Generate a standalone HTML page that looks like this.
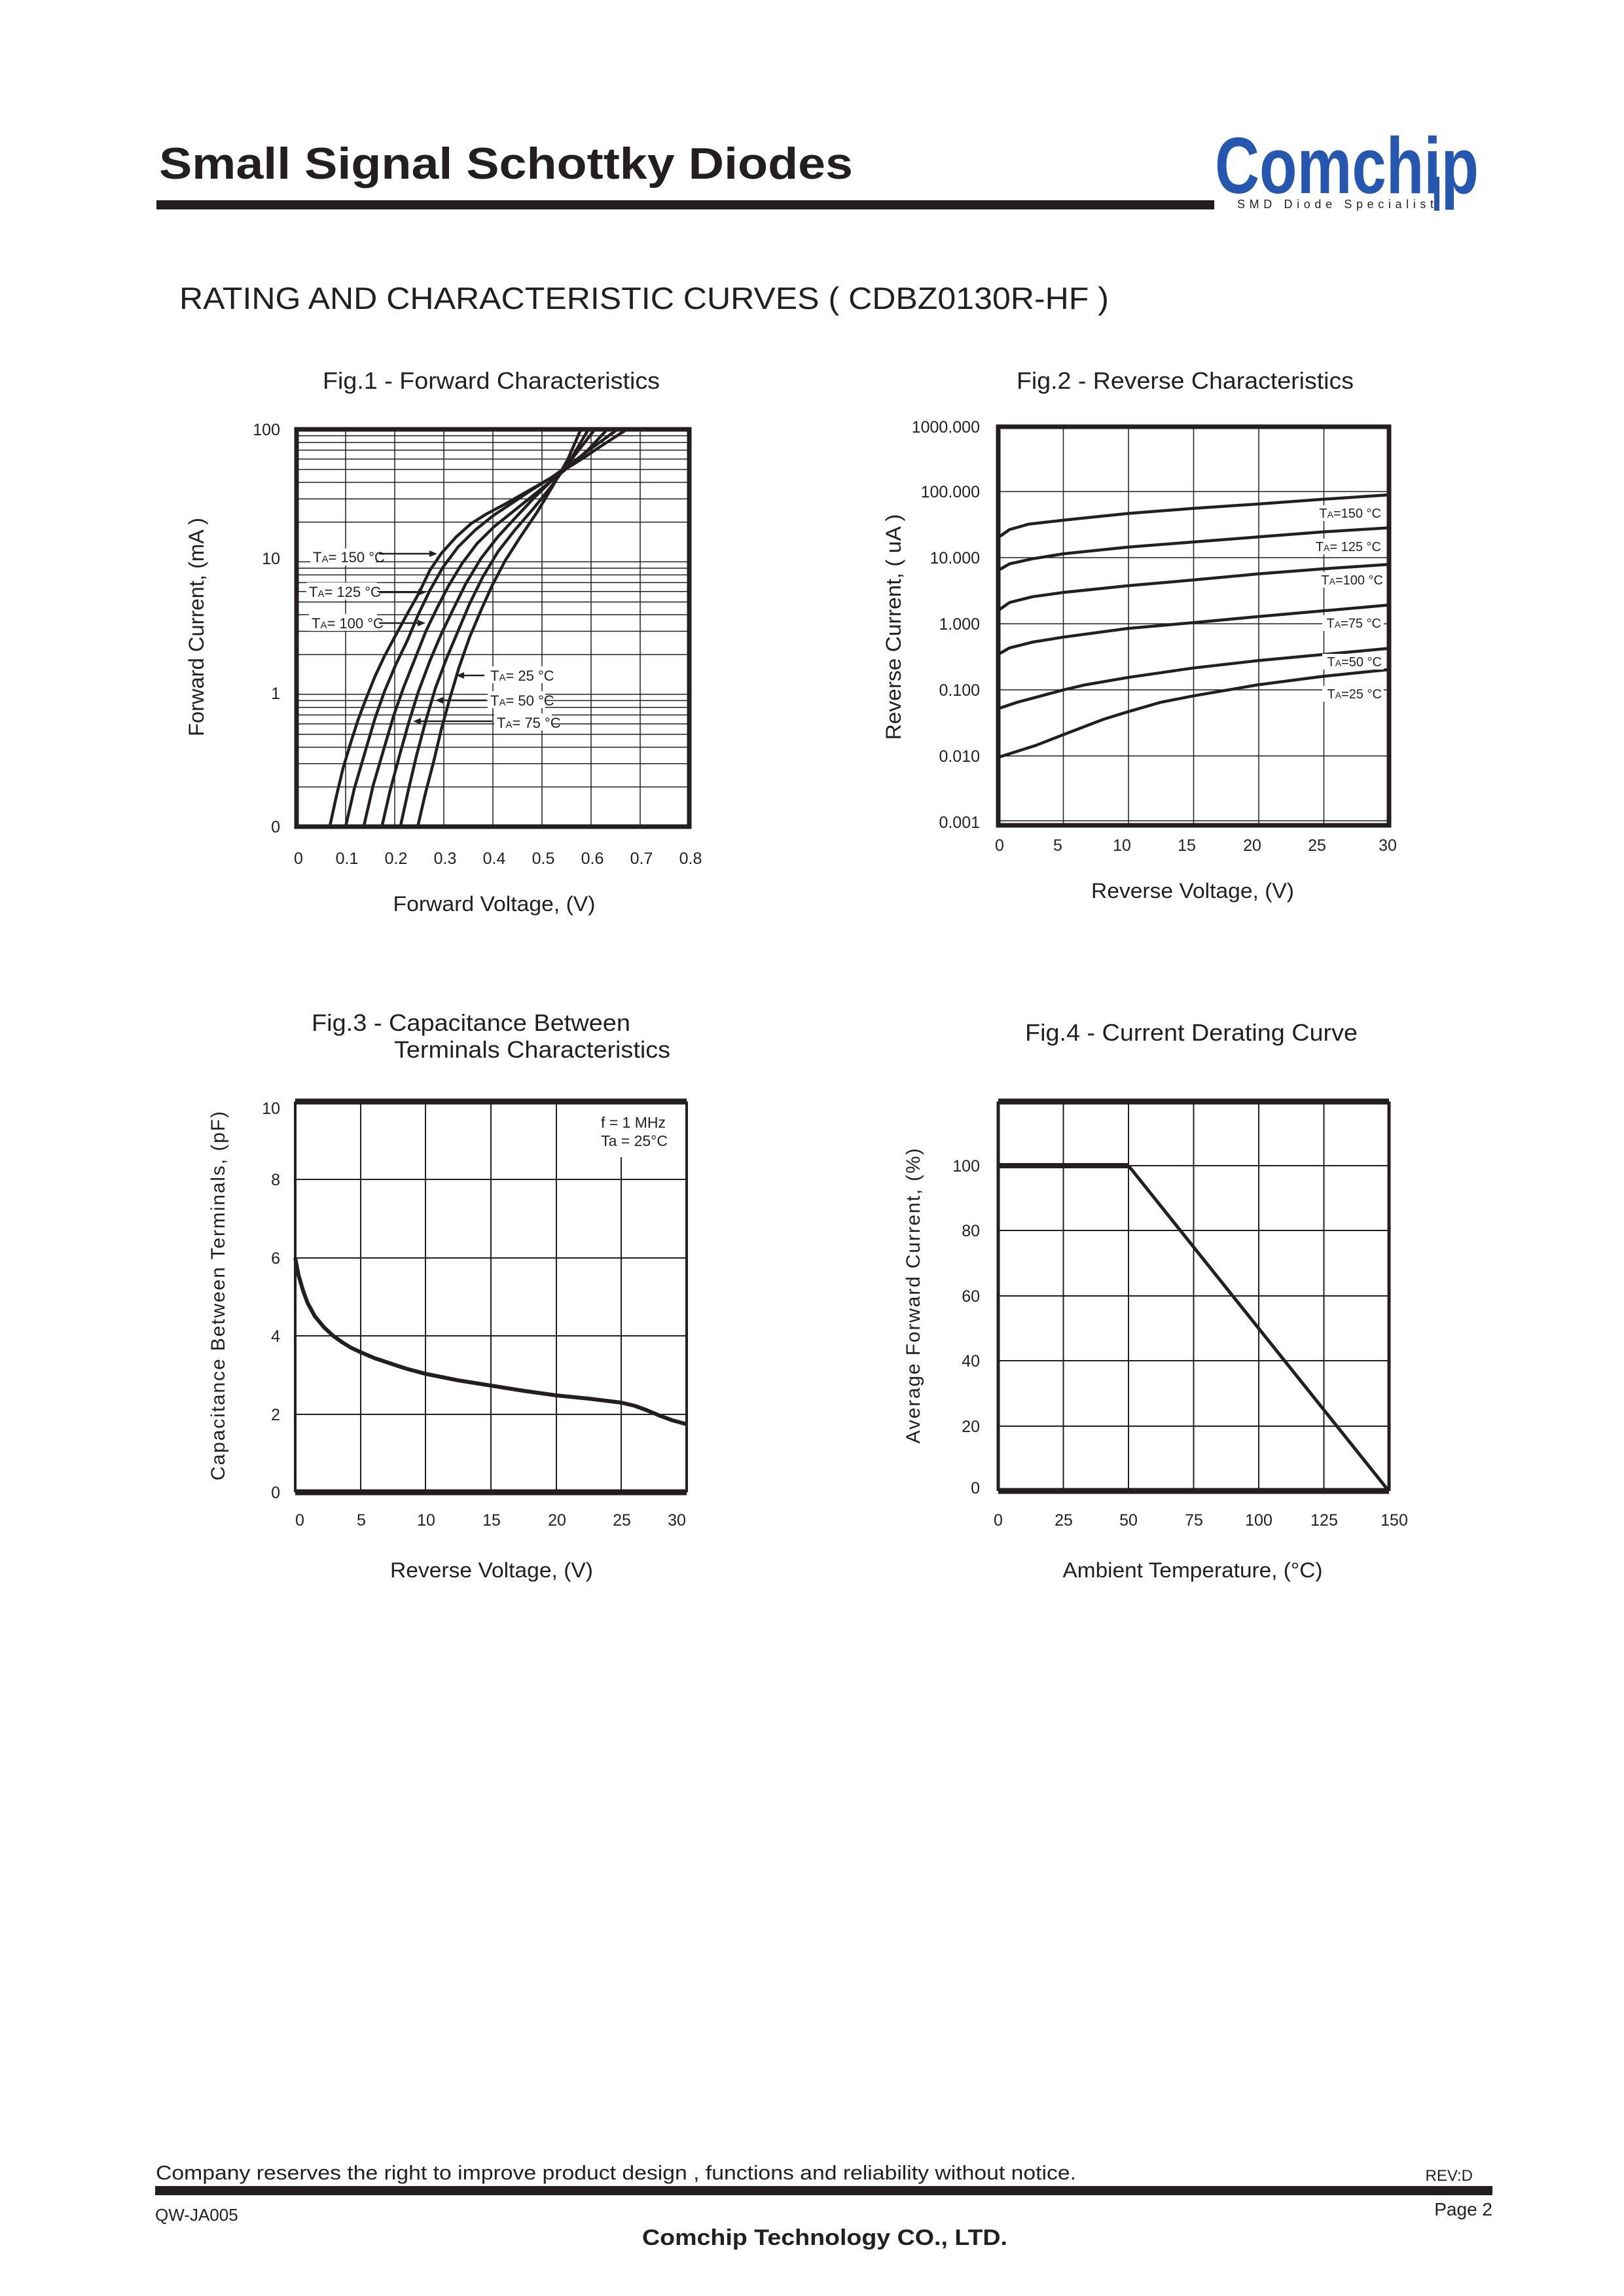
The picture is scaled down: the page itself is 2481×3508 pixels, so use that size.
<!DOCTYPE html>
<html><head><meta charset="utf-8"><style>
html,body{margin:0;padding:0;background:#fff}
svg{display:block}
text{font-family:"Liberation Sans",Arial,sans-serif;fill:#231f20}
</style></head><body>
<svg width="2481" height="3508" viewBox="0 0 2481 3508" xmlns="http://www.w3.org/2000/svg">
<rect width="2481" height="3508" fill="#fff"/>
<!-- Header -->
<text x="243" y="273" font-size="68" font-weight="bold" textLength="1060" lengthAdjust="spacingAndGlyphs">Small Signal Schottky Diodes</text>
<rect x="239" y="306" width="1616" height="14" fill="#231f20"/>
<text x="1856" y="295" font-size="122" font-weight="bold" style="fill:#2557b0" textLength="403" lengthAdjust="spacingAndGlyphs">Comchip</text>
<rect x="2191" y="270" width="8" height="52" fill="#2557b0"/>
<text x="1890" y="318" font-size="18" textLength="300" lengthAdjust="spacing">SMD Diode Specialist</text>
<text x="274" y="472" font-size="47" textLength="1420" lengthAdjust="spacingAndGlyphs">RATING AND CHARACTERISTIC CURVES ( CDBZ0130R-HF )</text>

<!-- Fig titles -->
<text x="493" y="594" font-size="36" textLength="515" lengthAdjust="spacingAndGlyphs">Fig.1 - Forward Characteristics</text>
<text x="1553" y="594" font-size="36" textLength="515" lengthAdjust="spacingAndGlyphs">Fig.2 - Reverse Characteristics</text>
<text x="476" y="1575" font-size="36" textLength="487" lengthAdjust="spacingAndGlyphs">Fig.3 - Capacitance Between</text>
<text x="602" y="1616" font-size="36" textLength="422" lengthAdjust="spacingAndGlyphs">Terminals Characteristics</text>
<text x="1566" y="1590" font-size="36" textLength="508" lengthAdjust="spacingAndGlyphs">Fig.4 - Current Derating Curve</text>

<!-- ===== FIG 1 ===== -->
<g stroke="#231f20" stroke-width="1.5">
<line x1="453" x2="1053" y1="1202.4" y2="1202.4"/><line x1="453" x2="1053" y1="1166.8" y2="1166.8"/>
<line x1="453" x2="1053" y1="1141.6" y2="1141.6"/><line x1="453" x2="1053" y1="1122.0" y2="1122.0"/>
<line x1="453" x2="1053" y1="1106.0" y2="1106.0"/><line x1="453" x2="1053" y1="1092.4" y2="1092.4"/>
<line x1="453" x2="1053" y1="1080.7" y2="1080.7"/><line x1="453" x2="1053" y1="1070.4" y2="1070.4"/>
<line x1="453" x2="1053" y1="1060.7" y2="1060.7"/>
<line x1="453" x2="1053" y1="1000.1" y2="1000.1"/><line x1="453" x2="1053" y1="964.5" y2="964.5"/>
<line x1="453" x2="1053" y1="939.3" y2="939.3"/><line x1="453" x2="1053" y1="919.7" y2="919.7"/>
<line x1="453" x2="1053" y1="903.7" y2="903.7"/><line x1="453" x2="1053" y1="890.1" y2="890.1"/>
<line x1="453" x2="1053" y1="878.4" y2="878.4"/><line x1="453" x2="1053" y1="868.1" y2="868.1"/>
<line x1="453" x2="1053" y1="858.4" y2="858.4"/>
<line x1="453" x2="1053" y1="797.8" y2="797.8"/><line x1="453" x2="1053" y1="762.2" y2="762.2"/>
<line x1="453" x2="1053" y1="737.0" y2="737.0"/><line x1="453" x2="1053" y1="717.4" y2="717.4"/>
<line x1="453" x2="1053" y1="701.4" y2="701.4"/><line x1="453" x2="1053" y1="687.8" y2="687.8"/>
<line x1="453" x2="1053" y1="676.1" y2="676.1"/><line x1="453" x2="1053" y1="665.8" y2="665.8"/>
<line x1="528" x2="528" y1="656" y2="1263"/><line x1="603" x2="603" y1="656" y2="1263"/>
<line x1="678" x2="678" y1="656" y2="1263"/><line x1="753" x2="753" y1="656" y2="1263"/>
<line x1="828" x2="828" y1="656" y2="1263"/><line x1="903" x2="903" y1="656" y2="1263"/>
<line x1="978" x2="978" y1="656" y2="1263"/>
</g>
<g transform="translate(453,656) scale(0.5769,0.5131) translate(-347,-100)" fill="none" stroke="#231f20" stroke-linejoin="round" stroke-linecap="round">
<polyline vector-effect="non-scaling-stroke" stroke-width="4.5" points="435,1283 452,1195 470,1110 490,1035 510,965 530,905 555,835 580,775 610,712 640,650 670,590 700,520 730,470 770,420 810,380 850,352 900,322 950,290 1000,258 1050,225 1100,190 1160,145 1222,100"/>
<polyline vector-effect="non-scaling-stroke" stroke-width="4.5" points="477,1283 500,1170 530,1055 555,960 580,880 610,800 640,730 670,650 700,580 735,510 775,450 820,400 870,355 920,318 970,280 1020,245 1070,205 1130,155 1197,100"/>
<polyline vector-effect="non-scaling-stroke" stroke-width="4.5" points="525,1283 550,1160 580,1045 605,950 630,870 660,785 690,700 720,630 750,565 785,500 825,440 870,390 920,345 970,300 1020,255 1070,210 1120,160 1170,100"/>
<polyline vector-effect="non-scaling-stroke" stroke-width="4.5" points="573,1283 595,1175 620,1070 645,970 670,880 700,790 730,710 760,640 795,560 835,485 880,420 925,365 975,305 1025,250 1075,190 1137,100"/>
<polyline vector-effect="non-scaling-stroke" stroke-width="4.5" points="622,1283 643,1175 665,1070 690,965 715,870 745,780 775,700 805,620 840,540 880,465 925,400 975,335 1025,265 1070,195 1120,100"/>
<polyline vector-effect="non-scaling-stroke" stroke-width="4.5" points="668,1283 688,1185 710,1090 730,995 752,905 777,810 805,720 835,640 865,565 900,490 940,420 985,345 1025,270 1065,190 1100,100"/>
</g>
<rect x="453" y="656" width="600" height="607" fill="none" stroke="#231f20" stroke-width="7"/>
<g font-size="22">
<rect x="474" y="838" width="100" height="26" fill="#fff"/><text x="478" y="859">T<tspan font-size="15">A</tspan>= 150 °C</text>
<rect x="468" y="890" width="108" height="26" fill="#fff"/><text x="472" y="912">T<tspan font-size="15">A</tspan>= 125 °C</text>
<rect x="472" y="938" width="104" height="26" fill="#fff"/><text x="476" y="960">T<tspan font-size="15">A</tspan>= 100 °C</text>
<rect x="745" y="1018" width="88" height="26" fill="#fff"/><text x="749" y="1040">T<tspan font-size="15">A</tspan>= 25 °C</text>
<rect x="745" y="1056" width="88" height="26" fill="#fff"/><text x="749" y="1078">T<tspan font-size="15">A</tspan>= 50 °C</text>
<rect x="755" y="1090" width="88" height="26" fill="#fff"/><text x="759" y="1112">T<tspan font-size="15">A</tspan>= 75 °C</text>
</g>
<g stroke="#231f20" stroke-width="2.5">
<line x1="579" y1="846" x2="660" y2="846"/><line x1="579" y1="905" x2="643" y2="905"/><line x1="579" y1="952" x2="642" y2="952"/>
<line x1="740" y1="1032" x2="705" y2="1032"/><line x1="743" y1="1070" x2="673" y2="1070"/><line x1="752" y1="1102" x2="639" y2="1102"/>
</g>
<g fill="#231f20">
<polygon points="668,846 656,841 656,851"/><polygon points="651,905 639,900 639,910"/><polygon points="650,952 638,947 638,957"/>
<polygon points="697,1032 709,1027 709,1037"/><polygon points="665,1070 677,1065 677,1075"/><polygon points="631,1102 643,1097 643,1107"/>
</g>
<g font-size="25" text-anchor="end">
<text x="428" y="665">100</text><text x="428" y="862">10</text><text x="428" y="1068">1</text><text x="428" y="1272">0</text>
</g>
<g font-size="25" text-anchor="middle">
<text x="456" y="1320">0</text><text x="530" y="1320">0.1</text><text x="605" y="1320">0.2</text><text x="680" y="1320">0.3</text>
<text x="755" y="1320">0.4</text><text x="830" y="1320">0.5</text><text x="905" y="1320">0.6</text><text x="980" y="1320">0.7</text><text x="1055" y="1320">0.8</text>
</g>
<text x="755" y="1392" font-size="32" text-anchor="middle" textLength="309" lengthAdjust="spacingAndGlyphs">Forward Voltage, (V)</text>
<text transform="translate(311,958) rotate(-90)" font-size="32" text-anchor="middle" textLength="334" lengthAdjust="spacingAndGlyphs">Forward Current, (mA )</text>

<!-- ===== FIG 2 ===== -->
<g stroke="#231f20" stroke-width="1.5">
<line x1="1624.5" x2="1624.5" y1="652" y2="1261"/><line x1="1724" x2="1724" y1="652" y2="1261"/>
<line x1="1823.5" x2="1823.5" y1="652" y2="1261"/><line x1="1923" x2="1923" y1="652" y2="1261"/>
<line x1="2022.5" x2="2022.5" y1="652" y2="1261"/>
<line x1="1525" x2="2122" y1="751" y2="751"/><line x1="1525" x2="2122" y1="852" y2="852"/>
<line x1="1525" x2="2122" y1="953" y2="953"/><line x1="1525" x2="2122" y1="1054" y2="1054"/>
<line x1="1525" x2="2122" y1="1155" y2="1155"/><line x1="1525" x2="2122" y1="1254" y2="1254"/>
</g>
<g transform="translate(1525,652) scale(0.5768,0.5135) translate(-370,-92)" fill="none" stroke="#231f20" stroke-linejoin="round" stroke-linecap="round">
<polyline vector-effect="non-scaling-stroke" stroke-width="4.5" points="372,420 400,398 450,382 543,370 714,350 886,335 1057,322 1228,308 1400,295"/>
<polyline vector-effect="non-scaling-stroke" stroke-width="4.5" points="372,518 400,500 460,485 543,470 714,450 886,435 1057,420 1228,405 1400,393"/>
<polyline vector-effect="non-scaling-stroke" stroke-width="4.5" points="372,637 400,615 460,598 543,585 714,565 886,548 1057,530 1228,515 1400,502"/>
<polyline vector-effect="non-scaling-stroke" stroke-width="4.5" points="372,768 400,750 460,733 543,718 714,692 886,675 1057,657 1228,640 1400,623"/>
<polyline vector-effect="non-scaling-stroke" stroke-width="4.5" points="372,930 420,912 543,875 600,860 714,838 886,810 1057,788 1228,770 1400,752"/>
<polyline vector-effect="non-scaling-stroke" stroke-width="4.5" points="372,1075 470,1040 543,1008 650,962 714,940 800,912 886,893 1057,860 1228,835 1400,815"/>
</g>
<rect x="1525" y="652" width="597" height="609" fill="none" stroke="#231f20" stroke-width="7"/>
<g font-size="20" text-anchor="end">
<rect x="2010" y="772" width="104" height="24" fill="#fff"/><text x="2110" y="791">T<tspan font-size="14">A</tspan>=150 °C</text>
<rect x="2005" y="823" width="110" height="24" fill="#fff"/><text x="2110" y="842">T<tspan font-size="14">A</tspan>= 125 °C</text>
<rect x="2012" y="874" width="104" height="24" fill="#fff"/><text x="2113" y="893">T<tspan font-size="14">A</tspan>=100 °C</text>
<rect x="2020" y="940" width="94" height="24" fill="#fff"/><text x="2110" y="959">T<tspan font-size="14">A</tspan>=75 °C</text>
<rect x="2020" y="999" width="94" height="24" fill="#fff"/><text x="2111" y="1018">T<tspan font-size="14">A</tspan>=50 °C</text>
<rect x="2020" y="1048" width="94" height="24" fill="#fff"/><text x="2111" y="1067">T<tspan font-size="14">A</tspan>=25 °C</text>
</g>
<g font-size="25" text-anchor="end">
<text x="1497" y="661">1000.000</text><text x="1497" y="760">100.000</text><text x="1497" y="861">10.000</text>
<text x="1497" y="962">1.000</text><text x="1497" y="1063">0.100</text><text x="1497" y="1164">0.010</text><text x="1497" y="1265">0.001</text>
</g>
<g font-size="25" text-anchor="middle">
<text x="1527" y="1300">0</text><text x="1616" y="1300">5</text><text x="1714" y="1300">10</text><text x="1813" y="1300">15</text>
<text x="1913" y="1300">20</text><text x="2012" y="1300">25</text><text x="2120" y="1300">30</text>
</g>
<text x="1822" y="1372" font-size="32" text-anchor="middle" textLength="310" lengthAdjust="spacingAndGlyphs">Reverse Voltage, (V)</text>
<text transform="translate(1376,958) rotate(-90)" font-size="32" text-anchor="middle" textLength="345" lengthAdjust="spacingAndGlyphs">Reverse Current, ( uA )</text>

<!-- ===== FIG 3 ===== -->
<g stroke="#231f20" stroke-width="2">
<line x1="551" x2="551" y1="1683" y2="2280"/><line x1="650" x2="650" y1="1683" y2="2280"/>
<line x1="750" x2="750" y1="1683" y2="2280"/><line x1="850" x2="850" y1="1683" y2="2280"/>
<line x1="949" x2="949" y1="1768" y2="2280"/>
<line x1="451" x2="1049" y1="1802" y2="1802"/><line x1="451" x2="1049" y1="1922" y2="1922"/>
<line x1="451" x2="1049" y1="2041" y2="2041"/><line x1="451" x2="1049" y1="2161" y2="2161"/>
</g>
<polyline fill="none" stroke="#231f20" stroke-width="6" stroke-linejoin="round" points="451,1922 456,1948 463,1972 470,1991 481,2011 495,2028 509,2041 523,2051 536,2059 551,2066 572,2075 596,2083 620,2091 650,2099 700,2109 750,2117 800,2125 850,2132 900,2137 949,2143 970,2148 989,2155 1008,2163 1027,2170 1049,2176"/>
<line x1="451" x2="1049" y1="1683" y2="1683" stroke="#231f20" stroke-width="9"/>
<line x1="451" x2="1049" y1="2280" y2="2280" stroke="#231f20" stroke-width="9"/>
<line x1="451" x2="451" y1="1683" y2="2280" stroke="#231f20" stroke-width="4"/>
<line x1="1049" x2="1049" y1="1683" y2="2280" stroke="#231f20" stroke-width="4"/>
<text x="1017" y="1723" font-size="23" text-anchor="end">f = 1 MHz</text>
<text x="1020" y="1751" font-size="23" text-anchor="end">Ta = 25°C</text>
<g font-size="25" text-anchor="end">
<text x="428" y="1702">10</text><text x="428" y="1811">8</text><text x="428" y="1931">6</text>
<text x="428" y="2050">4</text><text x="428" y="2170">2</text><text x="428" y="2289">0</text>
</g>
<g font-size="25" text-anchor="middle">
<text x="458" y="2331">0</text><text x="552" y="2331">5</text><text x="651" y="2331">10</text><text x="751" y="2331">15</text>
<text x="851" y="2331">20</text><text x="950" y="2331">25</text><text x="1034" y="2331">30</text>
</g>
<text x="751" y="2410" font-size="32" text-anchor="middle" textLength="310" lengthAdjust="spacingAndGlyphs">Reverse Voltage, (V)</text>
<text transform="translate(343,1980) rotate(-90)" font-size="30" text-anchor="middle" textLength="564" lengthAdjust="spacing">Capacitance Between Terminals, (pF)</text>

<!-- ===== FIG 4 ===== -->
<g stroke="#231f20" stroke-width="2">
<line x1="1624.5" x2="1624.5" y1="1683" y2="2278"/><line x1="1724" x2="1724" y1="1683" y2="2278"/>
<line x1="1823.5" x2="1823.5" y1="1683" y2="2278"/><line x1="1923" x2="1923" y1="1683" y2="2278"/>
<line x1="2022.5" x2="2022.5" y1="1683" y2="2278"/>
<line x1="1525" x2="2122" y1="1781" y2="1781"/><line x1="1525" x2="2122" y1="1880" y2="1880"/>
<line x1="1525" x2="2122" y1="1980" y2="1980"/><line x1="1525" x2="2122" y1="2079" y2="2079"/>
<line x1="1525" x2="2122" y1="2179" y2="2179"/>
</g>
<line x1="1525" y1="1781" x2="1724" y2="1781" stroke="#231f20" stroke-width="8"/>
<line x1="1724" y1="1781" x2="2120" y2="2276" stroke="#231f20" stroke-width="5"/>
<line x1="1525" x2="2122" y1="1683" y2="1683" stroke="#231f20" stroke-width="9"/>
<line x1="1525" x2="2122" y1="2278" y2="2278" stroke="#231f20" stroke-width="9"/>
<line x1="1525" x2="1525" y1="1683" y2="2278" stroke="#231f20" stroke-width="5"/>
<line x1="2122" x2="2122" y1="1683" y2="2278" stroke="#231f20" stroke-width="5"/>
<g font-size="25" text-anchor="end">
<text x="1497" y="1790">100</text><text x="1497" y="1889">80</text><text x="1497" y="1989">60</text>
<text x="1497" y="2088">40</text><text x="1497" y="2188">20</text><text x="1497" y="2282">0</text>
</g>
<g font-size="25" text-anchor="middle">
<text x="1525" y="2331">0</text><text x="1625" y="2331">25</text><text x="1724" y="2331">50</text><text x="1824" y="2331">75</text>
<text x="1923" y="2331">100</text><text x="2023" y="2331">125</text><text x="2130" y="2331">150</text>
</g>
<text x="1822" y="2410" font-size="32" text-anchor="middle" textLength="397" lengthAdjust="spacingAndGlyphs">Ambient Temperature, (°C)</text>
<text transform="translate(1405,1980) rotate(-90)" font-size="30" text-anchor="middle" textLength="451" lengthAdjust="spacing">Average Forward Current, (%)</text>

<!-- Footer -->
<text x="238" y="3330" font-size="31" textLength="1406" lengthAdjust="spacingAndGlyphs">Company reserves the right to improve product design , functions and reliability without notice.</text>
<text x="2250" y="3332" font-size="24" text-anchor="end">REV:D</text>
<rect x="237" y="3340" width="2043" height="14" fill="#231f20"/>
<text x="237" y="3393" font-size="26">QW-JA005</text>
<text x="2280" y="3385" font-size="28" text-anchor="end">Page 2</text>
<text x="1260" y="3430" font-size="34" font-weight="bold" text-anchor="middle" textLength="558" lengthAdjust="spacingAndGlyphs">Comchip Technology CO., LTD.</text>
</svg>
</body></html>
